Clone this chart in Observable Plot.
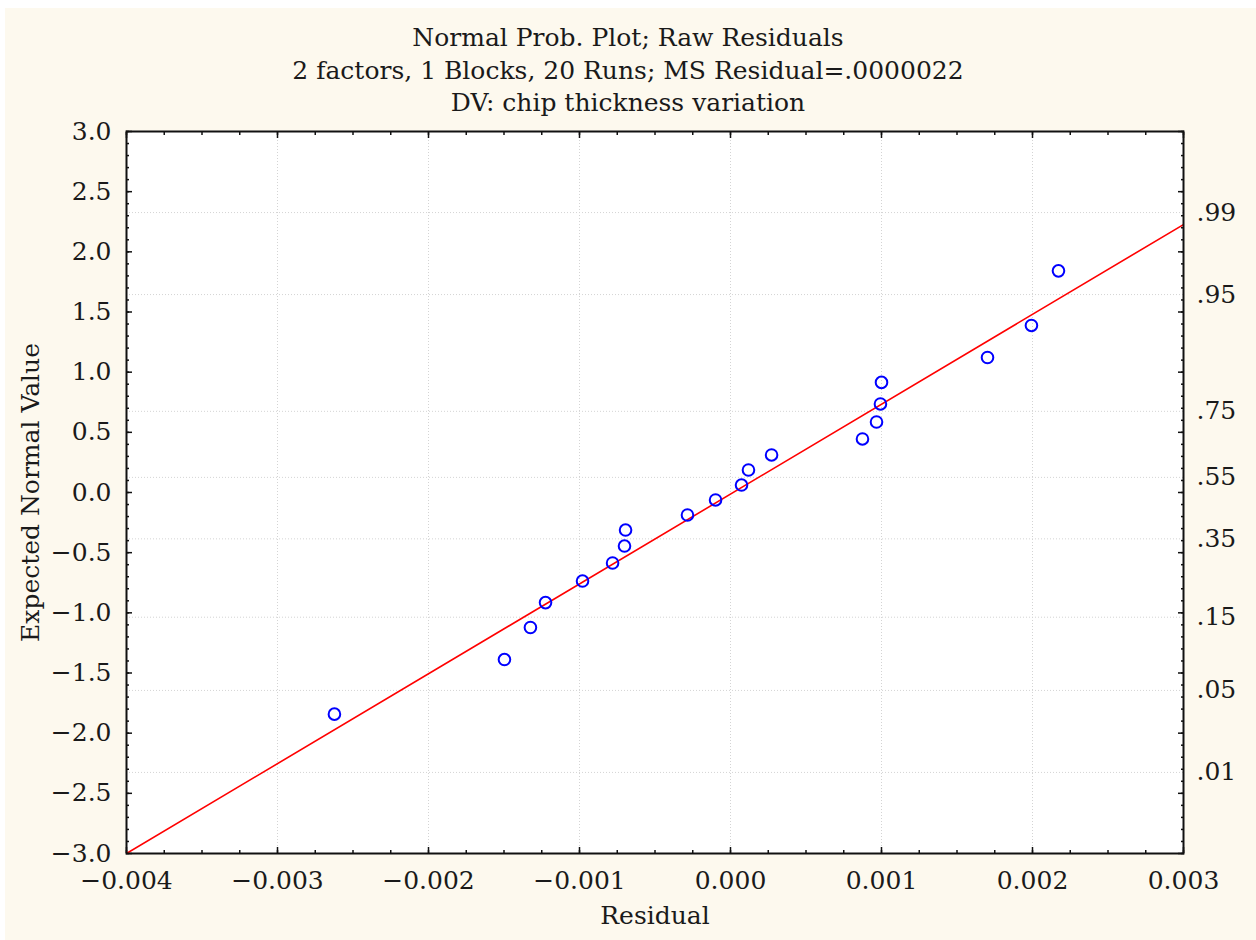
<!DOCTYPE html>
<html><head><meta charset="utf-8">
<script src="https://cdn.jsdelivr.net/npm/d3@7"></script>
<script src="https://cdn.jsdelivr.net/npm/@observablehq/plot@0.6"></script>
<style>
html,body{margin:0;padding:0;background:#fff;}
#wrap{position:relative;width:1256px;height:940px;background:#fff;overflow:hidden;}
#cream{position:absolute;left:5px;top:8px;right:0;bottom:0;background:#fdf9ee;}
#title{position:absolute;left:0;top:22px;width:1256px;text-align:center;font-family:"DejaVu Serif",serif;font-size:25px;line-height:32.5px;color:#1a1a1a;}
#chart{position:absolute;left:0;top:0;}
</style></head><body>
<div id="wrap"><div id="cream"></div><div id="title"></div><div id="chart"></div></div>
<script>
// ---- data ----
const titleLines = [
  "Normal Prob. Plot; Raw Residuals",
  "2 factors, 1 Blocks, 20 Runs; MS Residual=.0000022",
  "DV: chip thickness variation"
];
const xLabel = "Residual";
const yLabel = "Expected Normal Value";

const residuals = [-0.002623, -0.001497, -0.001325, -0.001225, -0.000980, -0.000781, -0.000702, -0.000695,
  -0.000285, -0.000099, 0.000073, 0.000119, 0.000272, 0.000874, 0.000967, 0.000993, 0.001000,
  0.001702, 0.001993, 0.002172];
const expectedNormal = [-1.842, -1.388, -1.122, -0.915, -0.736, -0.586, -0.445, -0.312, -0.187, -0.062,
  0.062, 0.187, 0.312, 0.445, 0.586, 0.736, 0.915, 1.122, 1.388, 1.842];

const fitResidual = [-0.004, 0.003];
const fitExpected = [-3.0, 2.227];

const xTicks = [-0.004, -0.003, -0.002, -0.001, 0, 0.001, 0.002, 0.003];
const yTicks = [-3, -2.5, -2, -1.5, -1, -0.5, 0, 0.5, 1, 1.5, 2, 2.5, 3];
const probValues = [0.01, 0.05, 0.15, 0.35, 0.55, 0.75, 0.95, 0.99];
const probLabels = [".01", ".05", ".15", ".35", ".55", ".75", ".95", ".99"];

// ---- helpers ----
function probit(p) {
  const a = [-3.969683028665376e+01, 2.209460984245205e+02, -2.759285104469687e+02, 1.383577518672690e+02, -3.066479806614716e+01, 2.506628277459239e+00];
  const b = [-5.447609879822406e+01, 1.615858368580409e+02, -1.556989798598866e+02, 6.680131188771972e+01, -1.328068155288572e+01];
  const c = [-7.784894002430293e-03, -3.223964580411365e-01, -2.400758276161838e+00, -2.549732539343734e+00, 4.374664141464968e+00, 2.938163982698783e+00];
  const d = [7.784695709041462e-03, 3.224671290700398e-01, 2.445134137142996e+00, 3.754408661907416e+00];
  const plow = 0.02425;
  let q, r;
  if (p < plow) {
    q = Math.sqrt(-2 * Math.log(p));
    return (((((c[0]*q+c[1])*q+c[2])*q+c[3])*q+c[4])*q+c[5]) / ((((d[0]*q+d[1])*q+d[2])*q+d[3])*q+1);
  } else if (p <= 1 - plow) {
    q = p - 0.5; r = q*q;
    return (((((a[0]*r+a[1])*r+a[2])*r+a[3])*r+a[4])*r+a[5])*q / (((((b[0]*r+b[1])*r+b[2])*r+b[3])*r+b[4])*r+1);
  } else {
    q = Math.sqrt(-2 * Math.log(1 - p));
    return -(((((c[0]*q+c[1])*q+c[2])*q+c[3])*q+c[4])*q+c[5]) / ((((d[0]*q+d[1])*q+d[2])*q+d[3])*q+1);
  }
}

document.getElementById("title").innerHTML = titleLines.map(t => `<div>${t}</div>`).join("");

const points = residuals.map((x, i) => ({x, y: expectedNormal[i]}));
const fit = fitResidual.map((x, i) => ({x, y: fitExpected[i]}));
const probZ = probValues.map(probit);
const labelByZ = new Map(probZ.map((z, i) => [z, probLabels[i]]));
const xMinor = d3.range(0, 29).map(i => xTicks[0] + i * 0.00025);
const yMinor = d3.range(-30, 31).map(i => i / 10);
const xGrid = xTicks.slice(1, -1);

const tickColor = "#111";
const textColor = "#1a1a1a";
const fmtX = d3.format(".3f");
const fmtY = d3.format(".1f");
const blank = () => "";
const gridStyle = {stroke: "#d4d4d4", strokeOpacity: 1, strokeDasharray: "1,2"};

const chart = Plot.plot({
  width: 1256,
  height: 940,
  marginLeft: 126,
  marginRight: 73,
  marginTop: 131,
  marginBottom: 87,
  style: {background: "transparent", fontFamily: "'DejaVu Serif', serif", fontSize: "25px", color: textColor},
  x: {domain: [-0.004, 0.003], axis: null},
  y: {domain: [-3, 3], axis: null},
  marks: [
    Plot.frame({fill: "#ffffff"}),
    Plot.gridX(xGrid, gridStyle),
    Plot.gridY(probZ, gridStyle),
    // bottom axis
    Plot.axisX(xTicks, {anchor: "bottom", label: null, tickSize: 0, tickPadding: 18, tickFormat: fmtX, fill: textColor}),
    Plot.axisX(xTicks, {anchor: "bottom", label: null, tickSize: 6, dy: -6, tickFormat: blank, stroke: tickColor, strokeWidth: 1.5}),
    Plot.axisX(xMinor, {anchor: "bottom", label: null, tickSize: 3, dy: -3, tickFormat: blank, stroke: tickColor, strokeWidth: 1.5}),
    // top axis
    Plot.axisX(xTicks, {anchor: "top", label: null, tickSize: 6, dy: 6, tickFormat: blank, stroke: tickColor, strokeWidth: 1.5}),
    Plot.axisX(xMinor, {anchor: "top", label: null, tickSize: 3, dy: 3, tickFormat: blank, stroke: tickColor, strokeWidth: 1.5}),
    // left axis
    Plot.axisY(yTicks, {anchor: "left", label: null, tickSize: 0, tickPadding: 15, tickFormat: fmtY, fill: textColor}),
    Plot.axisY(yTicks, {anchor: "left", label: null, tickSize: 6, dx: 6, tickFormat: blank, stroke: tickColor, strokeWidth: 1.5}),
    Plot.axisY(yMinor, {anchor: "left", label: null, tickSize: 3, dx: 3, tickFormat: blank, stroke: tickColor, strokeWidth: 1.5}),
    // right axis
    Plot.axisY(probZ, {anchor: "right", label: null, tickSize: 0, tickPadding: 13, tickFormat: d => labelByZ.get(d), fill: textColor}),
    Plot.axisY(yTicks, {anchor: "right", label: null, tickSize: 6, dx: -6, tickFormat: blank, stroke: tickColor, strokeWidth: 1.5}),
    Plot.axisY(yMinor, {anchor: "right", label: null, tickSize: 3, dx: -3, tickFormat: blank, stroke: tickColor, strokeWidth: 1.5}),
    // fit line and points
    Plot.line(fit, {x: "x", y: "y", stroke: "#ff0000", strokeWidth: 1.6, clip: true}),
    Plot.dot(points, {x: "x", y: "y", r: 5.8, stroke: "#0000ff", strokeWidth: 2, fill: "none"}),
    Plot.frame({stroke: "#111", strokeWidth: 2}),
    // axis titles
    Plot.text([xLabel], {frameAnchor: "bottom", dy: 70, fill: textColor, fontSize: 25}),
    Plot.text([yLabel], {frameAnchor: "left", rotate: -90, textAnchor: "middle", dx: -96, fill: textColor, fontSize: 25})
  ]
});
document.getElementById("chart").appendChild(chart);
</script>
</body></html>
